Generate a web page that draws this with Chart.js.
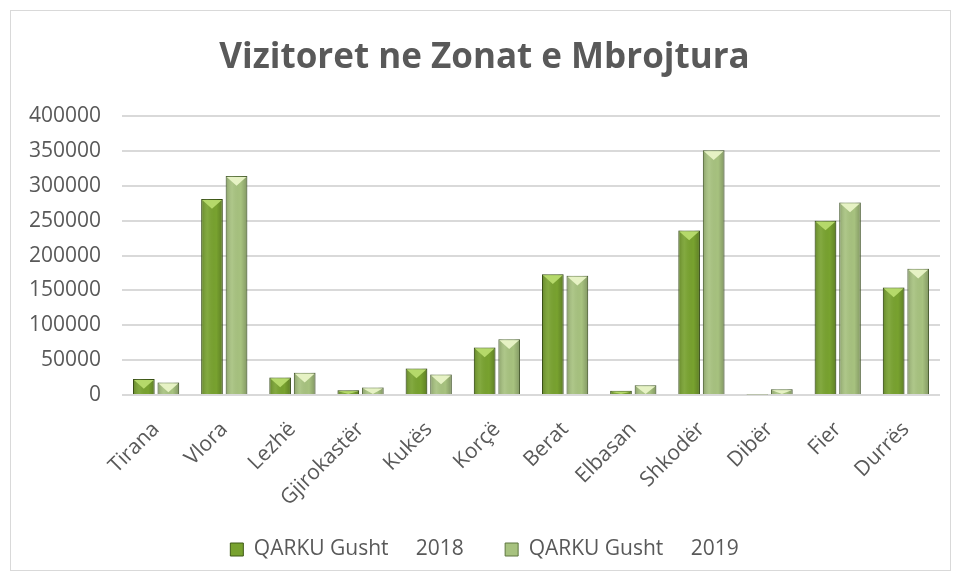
<!DOCTYPE html>
<html>
<head>
<meta charset="utf-8">
<script src="https://cdn.jsdelivr.net/npm/chart.js@4"></script>
<style>
  body { margin: 0; background: #fff; }
  #box { position: absolute; left: 10px; top: 10px; width: 941px; height: 561px; border: 1px solid #d9d9d9; box-sizing: border-box; }
  #wrap { position: absolute; left: 18px; top: 0; right: 0; bottom: 0; }
</style>
</head>
<body>
<div id="box"><div id="wrap"><canvas id="chart"></canvas></div></div>
<script>
const regions = ['Tirana', 'Vlora', 'Lezhë', 'Gjirokastër', 'Kukës', 'Korçë', 'Berat', 'Elbasan', 'Shkodër', 'Dibër', 'Fier', 'Durrës'];
const visitors2018 = [23000, 281000, 25000, 7000, 38000, 68000, 173000, 6000, 236000, 800, 250000, 154000];
const visitors2019 = [18000, 314000, 32000, 11000, 29500, 80000, 171000, 14000, 351000, 8500, 276000, 181000];
const yTicks = [0, 50000, 100000, 150000, 200000, 250000, 300000, 350000, 400000];

const fontFamily = '"Open Sans", sans-serif';
const textColor = '#595959';
const bevelColors = ['#b5d96a', '#e6f2c4'];

// shading on the bars: darker edges and a light bevel at the top
const bevelPlugin = {
    id: 'bevel',
    afterDatasetsDraw(chart) {
        const c = chart.ctx;
        chart.data.datasets.forEach((ds, di) => {
            chart.getDatasetMeta(di).data.forEach(bar => {
                const p = bar.getProps(['x', 'y', 'base', 'width'], true);
                const left = p.x - p.width / 2, right = p.x + p.width / 2;
                const h = p.base - p.y;
                if (h < 2) return;
                const g = c.createLinearGradient(left, 0, right, 0);
                g.addColorStop(0, 'rgba(0,0,0,0.18)');
                g.addColorStop(0.3, 'rgba(255,255,255,0.08)');
                g.addColorStop(0.7, 'rgba(0,0,0,0)');
                g.addColorStop(1, 'rgba(0,0,0,0.22)');
                c.save();
                c.fillStyle = g;
                c.fillRect(left, p.y, p.width, h);
                const d = Math.min(p.width * 0.45, h);
                c.fillStyle = bevelColors[di];
                c.beginPath();
                c.moveTo(left + 1, p.y + 1);
                c.lineTo(right - 1, p.y + 1);
                c.lineTo(p.x, p.y + d);
                c.closePath();
                c.fill();
                c.restore();
            });
        });
    }
};

const ctx = document.getElementById('chart').getContext('2d');
const chart = new Chart(ctx, {
    type: 'bar',
    data: {
        labels: regions,
        datasets: [
            {
                label: 'QARKU Gusht     2018     ',
                data: visitors2018,
                backgroundColor: '#78a22f',
                borderColor: '#3f5a16',
                borderWidth: 1,
                categoryPercentage: 0.72,
                barPercentage: 0.88
            },
            {
                label: 'QARKU Gusht     2019',
                data: visitors2019,
                backgroundColor: '#a7c27f',
                borderColor: '#5f7740',
                borderWidth: 1,
                categoryPercentage: 0.72,
                barPercentage: 0.88
            }
        ]
    },
    options: {
        responsive: true,
        maintainAspectRatio: false,
        animation: false,
        layout: { padding: { left: 0, right: 10, top: 10, bottom: 0 } },
        plugins: {
            title: {
                display: true,
                text: 'Vizitoret ne Zonat e Mbrojtura',
                color: textColor,
                font: { family: fontFamily, size: 35, weight: 'bold' },
                padding: { top: 16, bottom: 37 }
            },
            legend: {
                display: true,
                position: 'bottom',
                labels: {
                    color: textColor,
                    font: { family: fontFamily, size: 21 },
                    boxWidth: 13,
                    boxHeight: 13,
                    padding: 14
                }
            },
            tooltip: { enabled: false }
        },
        scales: {
            x: {
                grid: { display: false },
                border: { display: false },
                ticks: {
                    color: textColor,
                    font: { family: fontFamily, size: 21 },
                    maxRotation: 45,
                    minRotation: 45,
                    padding: 14
                }
            },
            y: {
                min: 0,
                max: 400000,
                afterBuildTicks: axis => { axis.ticks = yTicks.map(v => ({ value: v })); },
                afterFit: axis => { axis.width = 93; },
                grid: { color: '#d9d9d9', lineWidth: 2, drawTicks: false },
                border: { display: false },
                ticks: {
                    color: textColor,
                    font: { family: fontFamily, size: 21 },
                    padding: 21,
                    callback: v => String(v)
                }
            }
        }
    },
    plugins: [ bevelPlugin ]
});
</script>
</body>
</html>
